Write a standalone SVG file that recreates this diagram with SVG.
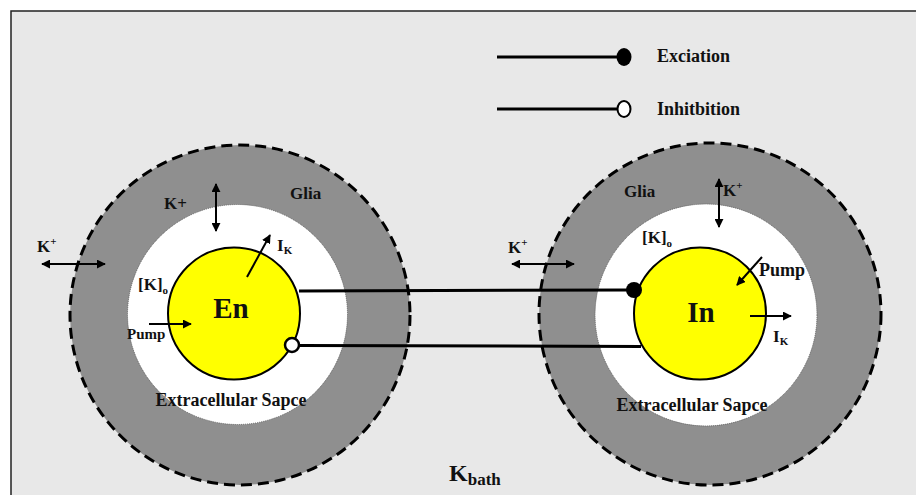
<svg xmlns="http://www.w3.org/2000/svg" width="916" height="495" viewBox="0 0 916 495">
<defs>
<marker id="ah" viewBox="0 0 10 10" refX="9" refY="5" markerWidth="9" markerHeight="9" markerUnits="userSpaceOnUse" orient="auto-start-reverse">
<path d="M0,0 L10,5 L0,10 z" fill="#000"/>
</marker>
<style>
text{font-family:"Liberation Serif","Times New Roman",serif;font-weight:bold;fill:#111}
.glia{fill:#8f8f8f;stroke:#000;stroke-width:3;stroke-dasharray:11 6}
.ecs{fill:#fff;stroke:#666;stroke-width:1;stroke-dasharray:1 1}
.cell{fill:#ffff00;stroke:#000;stroke-width:2}
.arr{stroke:#000;stroke-width:2;fill:none}
.conn{stroke:#000;stroke-width:3;fill:none}
.lbl{font-size:17px}
.sub{font-size:11px}
</style>
</defs>
<rect x="11" y="11" width="910" height="490" fill="#e8e8e8" stroke="#222" stroke-width="1.5"/>

<g id="legend">
<line class="conn" x1="497" y1="57" x2="620" y2="57"/>
<ellipse cx="624" cy="57" rx="7.5" ry="9" fill="#000"/>
<text x="657" y="62" font-size="18">Exciation</text>
<line class="conn" x1="497" y1="109" x2="618" y2="109"/>
<ellipse cx="624" cy="109" rx="6.5" ry="8" fill="#fff" stroke="#000" stroke-width="2"/>
<text x="657" y="115" font-size="18">Inhitbition</text>
</g>

<g id="left-cell">
<circle class="glia" cx="240" cy="315" r="170"/>
<circle class="ecs" cx="237.5" cy="314.5" r="110"/>
<circle class="cell" cx="234" cy="313.5" r="66"/>
<text x="164" y="209" class="lbl">K+</text>
<line class="arr" x1="216" y1="184" x2="216" y2="231" marker-start="url(#ah)" marker-end="url(#ah)"/>
<text x="290" y="199" class="lbl">Glia</text>
<text x="37" y="252" class="lbl">K<tspan class="sub" dy="-7">+</tspan></text>
<line class="arr" x1="42" y1="264" x2="105" y2="264" marker-start="url(#ah)" marker-end="url(#ah)"/>
<text x="138" y="290" class="lbl">[K]<tspan class="sub" dy="4">o</tspan></text>
<line class="arr" x1="247" y1="277" x2="270" y2="235" marker-end="url(#ah)"/>
<text x="277" y="251" class="lbl">I<tspan class="sub" dy="3">K</tspan></text>
<text x="231" y="318" font-size="29" text-anchor="middle">En</text>
<line class="arr" x1="149" y1="324" x2="191" y2="324" marker-end="url(#ah)"/>
<text x="127" y="339" font-size="15">Pump</text>
<text x="231" y="406" font-size="18" text-anchor="middle">Extracellular Sapce</text>
</g>

<g id="right-cell">
<circle class="glia" cx="710" cy="314" r="171"/>
<circle class="ecs" cx="706" cy="315" r="111"/>
<circle class="cell" cx="700" cy="313.5" r="66"/>
<text x="624" y="197" class="lbl">Glia</text>
<line class="arr" x1="719" y1="179" x2="719" y2="227" marker-start="url(#ah)" marker-end="url(#ah)"/>
<text x="723" y="196" class="lbl">K<tspan class="sub" dy="-7">+</tspan></text>
<text x="508" y="253" class="lbl">K<tspan class="sub" dy="-7">+</tspan></text>
<line class="arr" x1="512" y1="264" x2="574" y2="264" marker-start="url(#ah)" marker-end="url(#ah)"/>
<text x="642" y="243" class="lbl">[K]<tspan class="sub" dy="4">o</tspan></text>
<line class="arr" x1="762" y1="257" x2="737" y2="285" marker-end="url(#ah)"/>
<text x="759" y="276" font-size="18">Pump</text>
<text x="701" y="322" font-size="29" text-anchor="middle">In</text>
<line class="arr" x1="750" y1="316" x2="791" y2="316" marker-end="url(#ah)"/>
<text x="773" y="342" class="lbl">I<tspan class="sub" dy="3">K</tspan></text>
<text x="692" y="411" font-size="18" text-anchor="middle">Extracellular Sapce</text>
</g>

<g id="connectors">
<line class="conn" x1="299" y1="291" x2="628" y2="290"/>
<circle cx="634" cy="290" r="8" fill="#000"/>
<line class="conn" x1="299" y1="345.5" x2="641" y2="346.5"/>
<circle cx="292" cy="345" r="7" fill="#fff" stroke="#000" stroke-width="2.5"/>
</g>

<g id="kbath">
<text x="449" y="481" font-size="24">K<tspan font-size="17" dy="4">bath</tspan></text>
</g>
</svg>
